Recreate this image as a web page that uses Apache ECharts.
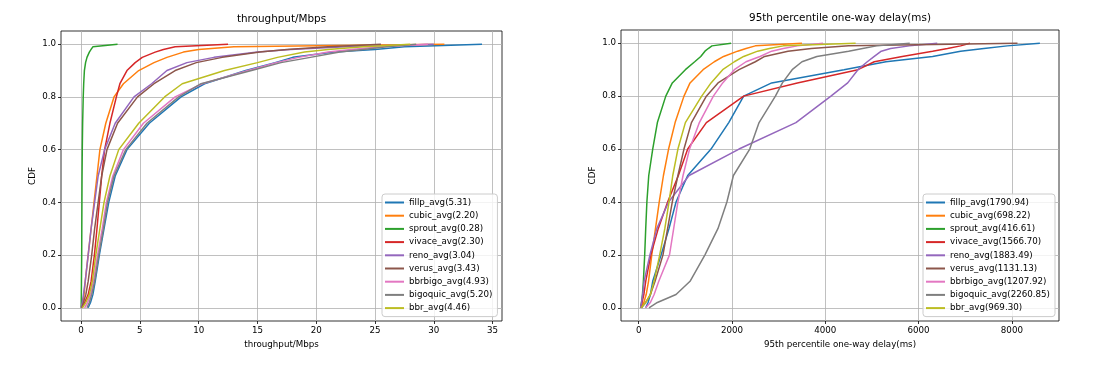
<!DOCTYPE html>
<html>
<head>
<meta charset="utf-8">
<title>CDF</title>
<script src="https://cdn.jsdelivr.net/npm/echarts@6/dist/echarts.min.js"></script>
<style>
  html, body { margin: 0; padding: 0; background: #fff; }
  #chart { width: 1116px; height: 376px; }
</style>
</head>
<body>
<div id="chart"></div>
<script>
// CDF levels shared by every curve (y values)
const cdfLevels = [0, 0.02, 0.05, 0.1, 0.2, 0.3, 0.4, 0.5, 0.6, 0.7, 0.8, 0.85, 0.9, 0.93, 0.95, 0.97, 0.98, 0.99, 1.0];

const algos = ['fillp', 'cubic', 'sprout', 'vivace', 'reno', 'verus', 'bbrbigo', 'bigoquic', 'bbr'];
const colors = ['#1f77b4', '#ff7f0e', '#2ca02c', '#d62728', '#9467bd', '#8c564b', '#e377c2', '#7f7f7f', '#bcbd22'];

// throughput (Mbps) reached at each cdf level
const tputAvg = ['5.31', '2.20', '0.28', '2.30', '3.04', '3.43', '4.93', '5.20', '4.46'];
const tputFillp    = [0.6, 0.8, 1.0, 1.2, 1.55, 1.95, 2.35, 2.9, 3.9, 5.8, 8.5, 10.5, 14.0, 16.5, 18.0, 21.5, 25.0, 27.5, 34.1];
const tputCubic    = [0.05, 0.15, 0.25, 0.35, 0.6, 0.85, 1.1, 1.35, 1.6, 2.1, 2.8, 3.6, 4.9, 6.2, 7.3, 8.7, 10.0, 13.0, 30.9];
const tputSprout   = [0.0, 0.01, 0.02, 0.03, 0.05, 0.06, 0.07, 0.08, 0.1, 0.13, 0.18, 0.22, 0.28, 0.38, 0.5, 0.7, 0.85, 1.0, 3.1];
const tputVivace   = [0.1, 0.3, 0.6, 0.85, 1.13, 1.35, 1.55, 1.75, 2.0, 2.45, 3.0, 3.3, 3.9, 4.6, 5.2, 6.3, 7.0, 8.0, 12.5];
const tputReno     = [0.0, 0.1, 0.2, 0.35, 0.6, 0.85, 1.15, 1.45, 2.0, 2.9, 4.5, 6.0, 7.3, 9.0, 11.3, 15.0, 17.8, 22.5, 30.0];
const tputVerus    = [0.05, 0.2, 0.4, 0.6, 0.9, 1.15, 1.45, 1.75, 2.2, 3.1, 4.8, 6.2, 8.0, 9.8, 12.0, 15.2, 17.5, 21.0, 25.5];
const tputBbrbigo  = [0.3, 0.55, 0.8, 1.05, 1.4, 1.8, 2.15, 2.7, 3.6, 5.3, 8.0, 10.3, 14.2, 16.6, 18.5, 21.0, 23.0, 25.5, 29.5];
const tputBigoquic = [0.5, 0.7, 0.9, 1.15, 1.5, 1.9, 2.25, 2.8, 3.8, 5.6, 8.3, 10.2, 14.5, 17.0, 19.5, 22.0, 24.0, 26.0, 28.5];
const tputBbr      = [0.1, 0.4, 0.7, 0.95, 1.25, 1.6, 1.95, 2.45, 3.2, 4.9, 7.1, 8.6, 12.2, 15.0, 16.7, 19.0, 21.0, 24.0, 28.0];

// 95th percentile one-way delay (ms) at each cdf level
const delayAvg = ['1790.94', '698.22', '416.61', '1566.70', '1883.49', '1131.13', '1207.92', '2260.85', '969.30'];
const delayFillp    = [150, 200, 250, 300, 480, 650, 800, 1050, 1550, 1930, 2250, 2850, 4400, 5300, 6300, 6900, 7400, 7900, 8600];
const delayCubic    = [40, 110, 160, 210, 280, 360, 440, 530, 640, 780, 970, 1100, 1380, 1620, 1820, 2120, 2300, 2500, 3500];
const delaySprout   = [40, 60, 80, 100, 128, 150, 175, 215, 300, 400, 580, 720, 1000, 1200, 1330, 1420, 1490, 1570, 1980];
const delayVivace   = [40, 70, 110, 150, 260, 420, 620, 850, 1050, 1450, 2250, 3400, 4700, 5050, 5650, 6300, 6620, 6900, 7100];
const delayReno     = [40, 60, 85, 115, 240, 390, 640, 1080, 2150, 3370, 4120, 4480, 4700, 4900, 5050, 5200, 5400, 5800, 6400];
const delayVerus    = [60, 150, 250, 350, 520, 620, 720, 840, 970, 1130, 1450, 1700, 2150, 2500, 2700, 3200, 3700, 4500, 8120];
const delayBbrbigo  = [150, 250, 330, 430, 660, 750, 840, 950, 1090, 1300, 1600, 1800, 2050, 2300, 2600, 2850, 3100, 3400, 3950];
const delayBigoquic = [220, 400, 800, 1100, 1420, 1700, 1890, 2030, 2380, 2580, 2930, 3080, 3290, 3500, 3820, 4500, 4800, 5100, 5810];
const delayBbr      = [50, 150, 250, 330, 450, 560, 650, 730, 840, 1000, 1350, 1550, 1800, 2050, 2250, 2550, 2800, 3100, 4650];

const tputTicks = [0, 5, 10, 15, 20, 25, 30, 35];
const delayTicks = [0, 2000, 4000, 6000, 8000];
const cdfTicks = [0, 0.2, 0.4, 0.6, 0.8, 1.0];

const tputData = [tputFillp, tputCubic, tputSprout, tputVivace, tputReno, tputVerus, tputBbrbigo, tputBigoquic, tputBbr];
const delayData = [delayFillp, delayCubic, delaySprout, delayVivace, delayReno, delayVerus, delayBbrbigo, delayBigoquic, delayBbr];

const FONT = 'DejaVu Sans';
const FS = 8.7;

const chart = echarts.init(document.getElementById('chart'), null, { renderer: 'canvas' });

function xAxisFor(idx, min, max, ticks, name) {
    return {
        gridIndex: idx,
        type: 'value',
        min: min,
        max: max,
        name: name,
        nameLocation: 'middle',
        nameGap: 17,
        nameTextStyle: { fontFamily: FONT, fontSize: FS, color: '#000' },
        axisLine: { show: false, onZero: false },
        axisTick: { show: true, length: 3, customValues: ticks, lineStyle: { color: '#000', width: 0.8 } },
        axisLabel: {
            customValues: ticks, margin: 5,
            fontFamily: FONT, fontSize: FS, color: '#000',
            formatter: v => String(v)
        },
        splitLine: { show: true, lineStyle: { color: '#b0b0b0', width: 0.8 } }
    };
}

function yAxisFor(idx) {
    return {
        gridIndex: idx,
        type: 'value',
        min: -0.05,
        max: 1.05,
        name: 'CDF',
        nameLocation: 'middle',
        nameGap: 24,
        nameTextStyle: { fontFamily: FONT, fontSize: FS, color: '#000' },
        axisLine: { show: false, onZero: false },
        axisTick: { show: true, length: 3, customValues: cdfTicks, lineStyle: { color: '#000', width: 0.8 } },
        axisLabel: {
            customValues: cdfTicks, margin: 5,
            fontFamily: FONT, fontSize: FS, color: '#000',
            formatter: v => v.toFixed(1)
        },
        splitLine: { show: true, lineStyle: { color: '#b0b0b0', width: 0.8 } }
    };
}

function legendFor(names, left) {
    return {
        orient: 'vertical',
        left: left,
        top: 194,
        data: names,
        icon: 'rect',
        itemWidth: 19,
        itemHeight: 2,
        itemGap: 2.2,
        padding: [3, 5, 3, 3],
        backgroundColor: 'rgba(255,255,255,0.8)',
        borderColor: '#cccccc',
        borderWidth: 1,
        borderRadius: 3,
        textStyle: { fontFamily: FONT, fontSize: FS, color: '#000', lineHeight: 11 },
        selectedMode: false
    };
}

const tputNames = algos.map((a, i) => a + '_avg(' + tputAvg[i] + ')');
const delayNames = algos.map((a, i) => a + '_avg(' + delayAvg[i] + ')');

const series = [];
algos.forEach((a, i) => {
    series.push({
        name: tputNames[i], type: 'line', xAxisIndex: 0, yAxisIndex: 0,
        data: tputData[i].map((x, k) => [x, cdfLevels[k]]),
        showSymbol: false, symbol: 'none',
        color: colors[i],
        lineStyle: { width: 1.5, color: colors[i] }
    });
});
algos.forEach((a, i) => {
    series.push({
        name: delayNames[i], type: 'line', xAxisIndex: 1, yAxisIndex: 1,
        data: delayData[i].map((x, k) => [x, cdfLevels[k]]),
        showSymbol: false, symbol: 'none',
        color: colors[i],
        lineStyle: { width: 1.5, color: colors[i] }
    });
});

const option = {
    animation: false,
    backgroundColor: '#fff',
    title: [
        { text: 'throughput/Mbps', left: 281.5, top: 14, textAlign: 'center', padding: 0,
          textStyle: { fontFamily: FONT, fontSize: 10.4, fontWeight: 'normal', color: '#000' } },
        { text: '95th percentile one-way delay(ms)', left: 840, top: 13, textAlign: 'center', padding: 0,
          textStyle: { fontFamily: FONT, fontSize: 10.4, fontWeight: 'normal', color: '#000' } }
    ],
    grid: [
        { left: 61, top: 31, width: 441, height: 290, show: true, borderColor: '#000', borderWidth: 0.8,
          backgroundColor: 'transparent', outerBoundsMode: 'none' },
        { left: 621, top: 30, width: 438, height: 291, show: true, borderColor: '#000', borderWidth: 0.8,
          backgroundColor: 'transparent', outerBoundsMode: 'none' }
    ],
    xAxis: [
        xAxisFor(0, -1.71, 35.8, tputTicks, 'throughput/Mbps'),
        xAxisFor(1, -380, 9010, delayTicks, '95th percentile one-way delay(ms)')
    ],
    yAxis: [yAxisFor(0), yAxisFor(1)],
    legend: [legendFor(tputNames, 382), legendFor(delayNames, 923)],
    series: series
};

chart.setOption(option);
</script>
</body>
</html>
